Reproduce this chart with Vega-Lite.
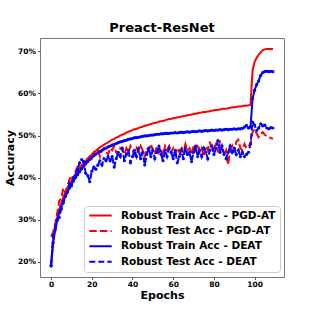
{
"$schema":"https://vega.github.io/schema/vega-lite/v6.json",
"autosize":"none",
"width":244,"height":239,
"padding":{"left":40,"top":38,"right":32,"bottom":39},
"background":"white",
"title":{"text":"Preact-ResNet","fontSize":13,"fontWeight":"bold","font":"DejaVu Sans","color":"black","offset":3,"anchor":"middle"},
"config":{
"view":{"stroke":"#777777","strokeWidth":1},
"font":"DejaVu Sans",
"axis":{"labelFont":"DejaVu Sans","labelFontSize":7.5,"labelFontWeight":"bold","labelColor":"black","tickColor":"#555555","tickSize":2.5,"domain":false,"grid":false,"titleFont":"DejaVu Sans","titleFontSize":11,"titleFontWeight":"bold","titleColor":"black"},
"legend":{"orient":"none","legendX":44,"legendY":168,"fillColor":"rgba(255,255,255,0.85)","strokeColor":"#cccccc","cornerRadius":3,"padding":4,"symbolType":"stroke","symbolSize":500,"clipHeight":11,"symbolStrokeWidth":2,"labelFont":"DejaVu Sans","labelFontSize":10.5,"labelFontWeight":"bold","labelColor":"black","labelOffset":8,"rowPadding":4.4,"title":null}
},
"datasets":{"acc":[
{"e":0,"s":"Robust Train Acc - PGD-AT","v":19.5},{"e":1,"s":"Robust Train Acc - PGD-AT","v":25.0},{"e":2,"s":"Robust Train Acc - PGD-AT","v":28.2},{"e":3,"s":"Robust Train Acc - PGD-AT","v":30.5},{"e":4,"s":"Robust Train Acc - PGD-AT","v":32.4},{"e":5,"s":"Robust Train Acc - PGD-AT","v":34.0},{"e":6,"s":"Robust Train Acc - PGD-AT","v":35.3},{"e":7,"s":"Robust Train Acc - PGD-AT","v":36.5},{"e":8,"s":"Robust Train Acc - PGD-AT","v":37.5},{"e":9,"s":"Robust Train Acc - PGD-AT","v":38.4},
{"e":10,"s":"Robust Train Acc - PGD-AT","v":39.3},{"e":11,"s":"Robust Train Acc - PGD-AT","v":40.1},{"e":12,"s":"Robust Train Acc - PGD-AT","v":40.8},{"e":13,"s":"Robust Train Acc - PGD-AT","v":41.5},{"e":14,"s":"Robust Train Acc - PGD-AT","v":42.2},{"e":15,"s":"Robust Train Acc - PGD-AT","v":42.8},{"e":16,"s":"Robust Train Acc - PGD-AT","v":43.4},{"e":17,"s":"Robust Train Acc - PGD-AT","v":44.0},{"e":18,"s":"Robust Train Acc - PGD-AT","v":44.5},{"e":19,"s":"Robust Train Acc - PGD-AT","v":45.0},
{"e":20,"s":"Robust Train Acc - PGD-AT","v":45.5},{"e":21,"s":"Robust Train Acc - PGD-AT","v":46.0},{"e":22,"s":"Robust Train Acc - PGD-AT","v":46.4},{"e":23,"s":"Robust Train Acc - PGD-AT","v":46.8},{"e":24,"s":"Robust Train Acc - PGD-AT","v":47.2},{"e":25,"s":"Robust Train Acc - PGD-AT","v":47.5},{"e":26,"s":"Robust Train Acc - PGD-AT","v":47.8},{"e":27,"s":"Robust Train Acc - PGD-AT","v":48.1},{"e":28,"s":"Robust Train Acc - PGD-AT","v":48.4},{"e":29,"s":"Robust Train Acc - PGD-AT","v":48.7},
{"e":30,"s":"Robust Train Acc - PGD-AT","v":49.0},{"e":31,"s":"Robust Train Acc - PGD-AT","v":49.2},{"e":32,"s":"Robust Train Acc - PGD-AT","v":49.5},{"e":33,"s":"Robust Train Acc - PGD-AT","v":49.7},{"e":34,"s":"Robust Train Acc - PGD-AT","v":50.0},{"e":35,"s":"Robust Train Acc - PGD-AT","v":50.2},{"e":36,"s":"Robust Train Acc - PGD-AT","v":50.4},{"e":37,"s":"Robust Train Acc - PGD-AT","v":50.7},{"e":38,"s":"Robust Train Acc - PGD-AT","v":50.9},{"e":39,"s":"Robust Train Acc - PGD-AT","v":51.1},
{"e":40,"s":"Robust Train Acc - PGD-AT","v":51.3},{"e":41,"s":"Robust Train Acc - PGD-AT","v":51.5},{"e":42,"s":"Robust Train Acc - PGD-AT","v":51.6},{"e":43,"s":"Robust Train Acc - PGD-AT","v":51.8},{"e":44,"s":"Robust Train Acc - PGD-AT","v":52.0},{"e":45,"s":"Robust Train Acc - PGD-AT","v":52.1},{"e":46,"s":"Robust Train Acc - PGD-AT","v":52.3},{"e":47,"s":"Robust Train Acc - PGD-AT","v":52.4},{"e":48,"s":"Robust Train Acc - PGD-AT","v":52.6},{"e":49,"s":"Robust Train Acc - PGD-AT","v":52.7},
{"e":50,"s":"Robust Train Acc - PGD-AT","v":52.9},{"e":51,"s":"Robust Train Acc - PGD-AT","v":53.0},{"e":52,"s":"Robust Train Acc - PGD-AT","v":53.1},{"e":53,"s":"Robust Train Acc - PGD-AT","v":53.3},{"e":54,"s":"Robust Train Acc - PGD-AT","v":53.4},{"e":55,"s":"Robust Train Acc - PGD-AT","v":53.5},{"e":56,"s":"Robust Train Acc - PGD-AT","v":53.6},{"e":57,"s":"Robust Train Acc - PGD-AT","v":53.8},{"e":58,"s":"Robust Train Acc - PGD-AT","v":53.9},{"e":59,"s":"Robust Train Acc - PGD-AT","v":54.0},
{"e":60,"s":"Robust Train Acc - PGD-AT","v":54.1},{"e":61,"s":"Robust Train Acc - PGD-AT","v":54.2},{"e":62,"s":"Robust Train Acc - PGD-AT","v":54.3},{"e":63,"s":"Robust Train Acc - PGD-AT","v":54.4},{"e":64,"s":"Robust Train Acc - PGD-AT","v":54.5},{"e":65,"s":"Robust Train Acc - PGD-AT","v":54.6},{"e":66,"s":"Robust Train Acc - PGD-AT","v":54.7},{"e":67,"s":"Robust Train Acc - PGD-AT","v":54.8},{"e":68,"s":"Robust Train Acc - PGD-AT","v":54.9},{"e":69,"s":"Robust Train Acc - PGD-AT","v":55.0},
{"e":70,"s":"Robust Train Acc - PGD-AT","v":55.1},{"e":71,"s":"Robust Train Acc - PGD-AT","v":55.2},{"e":72,"s":"Robust Train Acc - PGD-AT","v":55.3},{"e":73,"s":"Robust Train Acc - PGD-AT","v":55.4},{"e":74,"s":"Robust Train Acc - PGD-AT","v":55.5},{"e":75,"s":"Robust Train Acc - PGD-AT","v":55.6},{"e":76,"s":"Robust Train Acc - PGD-AT","v":55.6},{"e":77,"s":"Robust Train Acc - PGD-AT","v":55.7},{"e":78,"s":"Robust Train Acc - PGD-AT","v":55.8},{"e":79,"s":"Robust Train Acc - PGD-AT","v":55.9},
{"e":80,"s":"Robust Train Acc - PGD-AT","v":56.0},{"e":81,"s":"Robust Train Acc - PGD-AT","v":56.1},{"e":82,"s":"Robust Train Acc - PGD-AT","v":56.1},{"e":83,"s":"Robust Train Acc - PGD-AT","v":56.2},{"e":84,"s":"Robust Train Acc - PGD-AT","v":56.3},{"e":85,"s":"Robust Train Acc - PGD-AT","v":56.4},{"e":86,"s":"Robust Train Acc - PGD-AT","v":56.4},{"e":87,"s":"Robust Train Acc - PGD-AT","v":56.5},{"e":88,"s":"Robust Train Acc - PGD-AT","v":56.6},{"e":89,"s":"Robust Train Acc - PGD-AT","v":56.7},
{"e":90,"s":"Robust Train Acc - PGD-AT","v":56.7},{"e":91,"s":"Robust Train Acc - PGD-AT","v":56.8},{"e":92,"s":"Robust Train Acc - PGD-AT","v":56.9},{"e":93,"s":"Robust Train Acc - PGD-AT","v":56.9},{"e":94,"s":"Robust Train Acc - PGD-AT","v":57.0},{"e":95,"s":"Robust Train Acc - PGD-AT","v":57.1},{"e":96,"s":"Robust Train Acc - PGD-AT","v":57.1},{"e":97,"s":"Robust Train Acc - PGD-AT","v":57.2},{"e":98,"s":"Robust Train Acc - PGD-AT","v":57.3},{"e":99,"s":"Robust Train Acc - PGD-AT","v":65.5},
{"e":100,"s":"Robust Train Acc - PGD-AT","v":67.5},{"e":101,"s":"Robust Train Acc - PGD-AT","v":68.5},{"e":102,"s":"Robust Train Acc - PGD-AT","v":69.2},{"e":103,"s":"Robust Train Acc - PGD-AT","v":69.8},{"e":104,"s":"Robust Train Acc - PGD-AT","v":70.3},{"e":105,"s":"Robust Train Acc - PGD-AT","v":70.5},{"e":106,"s":"Robust Train Acc - PGD-AT","v":70.6},{"e":107,"s":"Robust Train Acc - PGD-AT","v":70.6},{"e":108,"s":"Robust Train Acc - PGD-AT","v":70.6},{"e":109,"s":"Robust Train Acc - PGD-AT","v":70.6},

{"e":0,"s":"Robust Test Acc - PGD-AT","v":26.0},{"e":1,"s":"Robust Test Acc - PGD-AT","v":27.0},{"e":2,"s":"Robust Test Acc - PGD-AT","v":29.0},{"e":3,"s":"Robust Test Acc - PGD-AT","v":31.5},{"e":4,"s":"Robust Test Acc - PGD-AT","v":34.5},{"e":5,"s":"Robust Test Acc - PGD-AT","v":35.0},{"e":6,"s":"Robust Test Acc - PGD-AT","v":37.5},{"e":7,"s":"Robust Test Acc - PGD-AT","v":36.5},{"e":8,"s":"Robust Test Acc - PGD-AT","v":38.0},{"e":9,"s":"Robust Test Acc - PGD-AT","v":39.5},
{"e":10,"s":"Robust Test Acc - PGD-AT","v":40.5},{"e":11,"s":"Robust Test Acc - PGD-AT","v":39.5},{"e":12,"s":"Robust Test Acc - PGD-AT","v":41.5},{"e":13,"s":"Robust Test Acc - PGD-AT","v":42.5},{"e":14,"s":"Robust Test Acc - PGD-AT","v":42.0},{"e":15,"s":"Robust Test Acc - PGD-AT","v":43.0},{"e":16,"s":"Robust Test Acc - PGD-AT","v":43.5},{"e":17,"s":"Robust Test Acc - PGD-AT","v":44.0},{"e":18,"s":"Robust Test Acc - PGD-AT","v":44.5},{"e":19,"s":"Robust Test Acc - PGD-AT","v":45.0},
{"e":20,"s":"Robust Test Acc - PGD-AT","v":44.5},{"e":21,"s":"Robust Test Acc - PGD-AT","v":46.0},{"e":22,"s":"Robust Test Acc - PGD-AT","v":45.5},{"e":23,"s":"Robust Test Acc - PGD-AT","v":46.5},{"e":24,"s":"Robust Test Acc - PGD-AT","v":45.0},{"e":25,"s":"Robust Test Acc - PGD-AT","v":46.5},{"e":26,"s":"Robust Test Acc - PGD-AT","v":47.0},{"e":27,"s":"Robust Test Acc - PGD-AT","v":46.0},{"e":28,"s":"Robust Test Acc - PGD-AT","v":45.5},{"e":29,"s":"Robust Test Acc - PGD-AT","v":47.0},
{"e":30,"s":"Robust Test Acc - PGD-AT","v":46.5},{"e":31,"s":"Robust Test Acc - PGD-AT","v":47.5},{"e":32,"s":"Robust Test Acc - PGD-AT","v":46.0},{"e":33,"s":"Robust Test Acc - PGD-AT","v":45.5},{"e":34,"s":"Robust Test Acc - PGD-AT","v":47.0},{"e":35,"s":"Robust Test Acc - PGD-AT","v":46.5},{"e":36,"s":"Robust Test Acc - PGD-AT","v":45.5},{"e":37,"s":"Robust Test Acc - PGD-AT","v":47.0},{"e":38,"s":"Robust Test Acc - PGD-AT","v":46.0},{"e":39,"s":"Robust Test Acc - PGD-AT","v":47.5},
{"e":40,"s":"Robust Test Acc - PGD-AT","v":46.5},{"e":41,"s":"Robust Test Acc - PGD-AT","v":45.5},{"e":42,"s":"Robust Test Acc - PGD-AT","v":47.0},{"e":43,"s":"Robust Test Acc - PGD-AT","v":46.0},{"e":44,"s":"Robust Test Acc - PGD-AT","v":47.5},{"e":45,"s":"Robust Test Acc - PGD-AT","v":46.5},{"e":46,"s":"Robust Test Acc - PGD-AT","v":45.0},{"e":47,"s":"Robust Test Acc - PGD-AT","v":47.0},{"e":48,"s":"Robust Test Acc - PGD-AT","v":46.5},{"e":49,"s":"Robust Test Acc - PGD-AT","v":48.0},
{"e":50,"s":"Robust Test Acc - PGD-AT","v":46.5},{"e":51,"s":"Robust Test Acc - PGD-AT","v":45.5},{"e":52,"s":"Robust Test Acc - PGD-AT","v":47.5},{"e":53,"s":"Robust Test Acc - PGD-AT","v":46.0},{"e":54,"s":"Robust Test Acc - PGD-AT","v":47.0},{"e":55,"s":"Robust Test Acc - PGD-AT","v":45.0},{"e":56,"s":"Robust Test Acc - PGD-AT","v":47.5},{"e":57,"s":"Robust Test Acc - PGD-AT","v":46.5},{"e":58,"s":"Robust Test Acc - PGD-AT","v":47.5},{"e":59,"s":"Robust Test Acc - PGD-AT","v":46.0},
{"e":60,"s":"Robust Test Acc - PGD-AT","v":47.0},{"e":61,"s":"Robust Test Acc - PGD-AT","v":45.5},{"e":62,"s":"Robust Test Acc - PGD-AT","v":47.0},{"e":63,"s":"Robust Test Acc - PGD-AT","v":46.0},{"e":64,"s":"Robust Test Acc - PGD-AT","v":47.5},{"e":65,"s":"Robust Test Acc - PGD-AT","v":46.0},{"e":66,"s":"Robust Test Acc - PGD-AT","v":48.0},{"e":67,"s":"Robust Test Acc - PGD-AT","v":46.5},{"e":68,"s":"Robust Test Acc - PGD-AT","v":47.0},{"e":69,"s":"Robust Test Acc - PGD-AT","v":45.5},
{"e":70,"s":"Robust Test Acc - PGD-AT","v":47.5},{"e":71,"s":"Robust Test Acc - PGD-AT","v":46.5},{"e":72,"s":"Robust Test Acc - PGD-AT","v":48.0},{"e":73,"s":"Robust Test Acc - PGD-AT","v":46.0},{"e":74,"s":"Robust Test Acc - PGD-AT","v":47.0},{"e":75,"s":"Robust Test Acc - PGD-AT","v":45.0},{"e":76,"s":"Robust Test Acc - PGD-AT","v":47.5},{"e":77,"s":"Robust Test Acc - PGD-AT","v":46.5},{"e":78,"s":"Robust Test Acc - PGD-AT","v":48.5},{"e":79,"s":"Robust Test Acc - PGD-AT","v":46.5},
{"e":80,"s":"Robust Test Acc - PGD-AT","v":47.0},{"e":81,"s":"Robust Test Acc - PGD-AT","v":48.0},{"e":82,"s":"Robust Test Acc - PGD-AT","v":46.0},{"e":83,"s":"Robust Test Acc - PGD-AT","v":48.8},{"e":84,"s":"Robust Test Acc - PGD-AT","v":47.0},{"e":85,"s":"Robust Test Acc - PGD-AT","v":45.5},{"e":86,"s":"Robust Test Acc - PGD-AT","v":46.5},{"e":87,"s":"Robust Test Acc - PGD-AT","v":43.0},{"e":88,"s":"Robust Test Acc - PGD-AT","v":46.5},{"e":89,"s":"Robust Test Acc - PGD-AT","v":47.5},
{"e":90,"s":"Robust Test Acc - PGD-AT","v":46.0},{"e":91,"s":"Robust Test Acc - PGD-AT","v":48.5},{"e":92,"s":"Robust Test Acc - PGD-AT","v":49.0},{"e":93,"s":"Robust Test Acc - PGD-AT","v":47.0},{"e":94,"s":"Robust Test Acc - PGD-AT","v":46.5},{"e":95,"s":"Robust Test Acc - PGD-AT","v":48.0},{"e":96,"s":"Robust Test Acc - PGD-AT","v":47.0},{"e":97,"s":"Robust Test Acc - PGD-AT","v":47.5},{"e":98,"s":"Robust Test Acc - PGD-AT","v":48.0},{"e":99,"s":"Robust Test Acc - PGD-AT","v":50.8},
{"e":100,"s":"Robust Test Acc - PGD-AT","v":51.5},{"e":101,"s":"Robust Test Acc - PGD-AT","v":50.5},{"e":102,"s":"Robust Test Acc - PGD-AT","v":49.6},{"e":103,"s":"Robust Test Acc - PGD-AT","v":50.4},{"e":104,"s":"Robust Test Acc - PGD-AT","v":50.8},{"e":105,"s":"Robust Test Acc - PGD-AT","v":50.2},{"e":106,"s":"Robust Test Acc - PGD-AT","v":49.8},{"e":107,"s":"Robust Test Acc - PGD-AT","v":49.6},{"e":108,"s":"Robust Test Acc - PGD-AT","v":49.4},{"e":109,"s":"Robust Test Acc - PGD-AT","v":49.2},

{"e":0,"s":"Robust Train Acc - DEAT","v":19.0},{"e":1,"s":"Robust Train Acc - DEAT","v":24.5},{"e":2,"s":"Robust Train Acc - DEAT","v":27.5},{"e":3,"s":"Robust Train Acc - DEAT","v":29.8},{"e":4,"s":"Robust Train Acc - DEAT","v":31.6},{"e":5,"s":"Robust Train Acc - DEAT","v":33.1},{"e":6,"s":"Robust Train Acc - DEAT","v":34.4},{"e":7,"s":"Robust Train Acc - DEAT","v":35.6},{"e":8,"s":"Robust Train Acc - DEAT","v":36.6},{"e":9,"s":"Robust Train Acc - DEAT","v":37.5},
{"e":10,"s":"Robust Train Acc - DEAT","v":38.4},{"e":11,"s":"Robust Train Acc - DEAT","v":39.2},{"e":12,"s":"Robust Train Acc - DEAT","v":40.0},{"e":13,"s":"Robust Train Acc - DEAT","v":40.7},{"e":14,"s":"Robust Train Acc - DEAT","v":41.4},{"e":15,"s":"Robust Train Acc - DEAT","v":42.1},{"e":16,"s":"Robust Train Acc - DEAT","v":42.7},{"e":17,"s":"Robust Train Acc - DEAT","v":43.3},{"e":18,"s":"Robust Train Acc - DEAT","v":43.8},{"e":19,"s":"Robust Train Acc - DEAT","v":44.3},
{"e":20,"s":"Robust Train Acc - DEAT","v":44.8},{"e":21,"s":"Robust Train Acc - DEAT","v":45.2},{"e":22,"s":"Robust Train Acc - DEAT","v":45.6},{"e":23,"s":"Robust Train Acc - DEAT","v":45.9},{"e":24,"s":"Robust Train Acc - DEAT","v":46.2},{"e":25,"s":"Robust Train Acc - DEAT","v":46.5},{"e":26,"s":"Robust Train Acc - DEAT","v":46.8},{"e":27,"s":"Robust Train Acc - DEAT","v":47.0},{"e":28,"s":"Robust Train Acc - DEAT","v":47.3},{"e":29,"s":"Robust Train Acc - DEAT","v":47.5},
{"e":30,"s":"Robust Train Acc - DEAT","v":47.7},{"e":31,"s":"Robust Train Acc - DEAT","v":47.9},{"e":32,"s":"Robust Train Acc - DEAT","v":48.1},{"e":33,"s":"Robust Train Acc - DEAT","v":48.3},{"e":34,"s":"Robust Train Acc - DEAT","v":48.5},{"e":35,"s":"Robust Train Acc - DEAT","v":48.6},{"e":36,"s":"Robust Train Acc - DEAT","v":48.8},{"e":37,"s":"Robust Train Acc - DEAT","v":48.9},{"e":38,"s":"Robust Train Acc - DEAT","v":49.1},{"e":39,"s":"Robust Train Acc - DEAT","v":49.2},
{"e":40,"s":"Robust Train Acc - DEAT","v":49.3},{"e":41,"s":"Robust Train Acc - DEAT","v":49.5},{"e":42,"s":"Robust Train Acc - DEAT","v":49.5},{"e":43,"s":"Robust Train Acc - DEAT","v":49.6},{"e":44,"s":"Robust Train Acc - DEAT","v":49.7},{"e":45,"s":"Robust Train Acc - DEAT","v":49.8},{"e":46,"s":"Robust Train Acc - DEAT","v":49.9},{"e":47,"s":"Robust Train Acc - DEAT","v":49.9},{"e":48,"s":"Robust Train Acc - DEAT","v":50.0},{"e":49,"s":"Robust Train Acc - DEAT","v":50.1},
{"e":50,"s":"Robust Train Acc - DEAT","v":50.1},{"e":51,"s":"Robust Train Acc - DEAT","v":50.2},{"e":52,"s":"Robust Train Acc - DEAT","v":50.3},{"e":53,"s":"Robust Train Acc - DEAT","v":50.3},{"e":54,"s":"Robust Train Acc - DEAT","v":50.4},{"e":55,"s":"Robust Train Acc - DEAT","v":50.4},{"e":56,"s":"Robust Train Acc - DEAT","v":50.5},{"e":57,"s":"Robust Train Acc - DEAT","v":50.5},{"e":58,"s":"Robust Train Acc - DEAT","v":50.5},{"e":59,"s":"Robust Train Acc - DEAT","v":50.6},
{"e":60,"s":"Robust Train Acc - DEAT","v":50.6},{"e":61,"s":"Robust Train Acc - DEAT","v":50.7},{"e":62,"s":"Robust Train Acc - DEAT","v":50.6},{"e":63,"s":"Robust Train Acc - DEAT","v":50.7},{"e":64,"s":"Robust Train Acc - DEAT","v":50.8},{"e":65,"s":"Robust Train Acc - DEAT","v":50.7},{"e":66,"s":"Robust Train Acc - DEAT","v":50.8},{"e":67,"s":"Robust Train Acc - DEAT","v":50.9},{"e":68,"s":"Robust Train Acc - DEAT","v":50.8},{"e":69,"s":"Robust Train Acc - DEAT","v":50.9},
{"e":70,"s":"Robust Train Acc - DEAT","v":51.0},{"e":71,"s":"Robust Train Acc - DEAT","v":50.9},{"e":72,"s":"Robust Train Acc - DEAT","v":51.0},{"e":73,"s":"Robust Train Acc - DEAT","v":51.1},{"e":74,"s":"Robust Train Acc - DEAT","v":51.0},{"e":75,"s":"Robust Train Acc - DEAT","v":51.1},{"e":76,"s":"Robust Train Acc - DEAT","v":51.2},{"e":77,"s":"Robust Train Acc - DEAT","v":51.1},{"e":78,"s":"Robust Train Acc - DEAT","v":51.2},{"e":79,"s":"Robust Train Acc - DEAT","v":51.3},
{"e":80,"s":"Robust Train Acc - DEAT","v":51.2},{"e":81,"s":"Robust Train Acc - DEAT","v":51.3},{"e":82,"s":"Robust Train Acc - DEAT","v":51.3},{"e":83,"s":"Robust Train Acc - DEAT","v":51.4},{"e":84,"s":"Robust Train Acc - DEAT","v":51.3},{"e":85,"s":"Robust Train Acc - DEAT","v":51.4},{"e":86,"s":"Robust Train Acc - DEAT","v":51.5},{"e":87,"s":"Robust Train Acc - DEAT","v":51.4},{"e":88,"s":"Robust Train Acc - DEAT","v":51.5},{"e":89,"s":"Robust Train Acc - DEAT","v":51.5},
{"e":90,"s":"Robust Train Acc - DEAT","v":51.6},{"e":91,"s":"Robust Train Acc - DEAT","v":51.5},{"e":92,"s":"Robust Train Acc - DEAT","v":51.6},{"e":93,"s":"Robust Train Acc - DEAT","v":51.6},{"e":94,"s":"Robust Train Acc - DEAT","v":51.7},{"e":95,"s":"Robust Train Acc - DEAT","v":52.0},{"e":96,"s":"Robust Train Acc - DEAT","v":52.4},{"e":97,"s":"Robust Train Acc - DEAT","v":51.8},{"e":98,"s":"Robust Train Acc - DEAT","v":52.0},{"e":99,"s":"Robust Train Acc - DEAT","v":58.8},
{"e":100,"s":"Robust Train Acc - DEAT","v":60.8},{"e":101,"s":"Robust Train Acc - DEAT","v":62.1},{"e":102,"s":"Robust Train Acc - DEAT","v":63.0},{"e":103,"s":"Robust Train Acc - DEAT","v":64.3},{"e":104,"s":"Robust Train Acc - DEAT","v":65.0},{"e":105,"s":"Robust Train Acc - DEAT","v":65.2},{"e":106,"s":"Robust Train Acc - DEAT","v":65.3},{"e":107,"s":"Robust Train Acc - DEAT","v":65.2},{"e":108,"s":"Robust Train Acc - DEAT","v":65.3},{"e":109,"s":"Robust Train Acc - DEAT","v":65.2},

{"e":0,"s":"Robust Test Acc - DEAT","v":19.0},{"e":1,"s":"Robust Test Acc - DEAT","v":26.0},{"e":2,"s":"Robust Test Acc - DEAT","v":28.0},{"e":3,"s":"Robust Test Acc - DEAT","v":30.0},{"e":4,"s":"Robust Test Acc - DEAT","v":30.5},{"e":5,"s":"Robust Test Acc - DEAT","v":32.5},{"e":6,"s":"Robust Test Acc - DEAT","v":34.0},{"e":7,"s":"Robust Test Acc - DEAT","v":35.5},{"e":8,"s":"Robust Test Acc - DEAT","v":36.5},{"e":9,"s":"Robust Test Acc - DEAT","v":38.5},
{"e":10,"s":"Robust Test Acc - DEAT","v":38.0},{"e":11,"s":"Robust Test Acc - DEAT","v":40.0},{"e":12,"s":"Robust Test Acc - DEAT","v":40.5},{"e":13,"s":"Robust Test Acc - DEAT","v":42.0},{"e":14,"s":"Robust Test Acc - DEAT","v":43.5},{"e":15,"s":"Robust Test Acc - DEAT","v":44.3},{"e":16,"s":"Robust Test Acc - DEAT","v":43.8},{"e":17,"s":"Robust Test Acc - DEAT","v":41.0},{"e":18,"s":"Robust Test Acc - DEAT","v":40.5},{"e":19,"s":"Robust Test Acc - DEAT","v":39.0},
{"e":20,"s":"Robust Test Acc - DEAT","v":41.5},{"e":21,"s":"Robust Test Acc - DEAT","v":42.5},{"e":22,"s":"Robust Test Acc - DEAT","v":42.0},{"e":23,"s":"Robust Test Acc - DEAT","v":43.0},{"e":24,"s":"Robust Test Acc - DEAT","v":44.0},{"e":25,"s":"Robust Test Acc - DEAT","v":43.0},{"e":26,"s":"Robust Test Acc - DEAT","v":44.5},{"e":27,"s":"Robust Test Acc - DEAT","v":44.0},{"e":28,"s":"Robust Test Acc - DEAT","v":45.0},{"e":29,"s":"Robust Test Acc - DEAT","v":44.0},
{"e":30,"s":"Robust Test Acc - DEAT","v":45.0},{"e":31,"s":"Robust Test Acc - DEAT","v":42.5},{"e":32,"s":"Robust Test Acc - DEAT","v":44.5},{"e":33,"s":"Robust Test Acc - DEAT","v":46.0},{"e":34,"s":"Robust Test Acc - DEAT","v":45.0},{"e":35,"s":"Robust Test Acc - DEAT","v":47.0},{"e":36,"s":"Robust Test Acc - DEAT","v":44.0},{"e":37,"s":"Robust Test Acc - DEAT","v":45.5},{"e":38,"s":"Robust Test Acc - DEAT","v":46.5},{"e":39,"s":"Robust Test Acc - DEAT","v":43.5},
{"e":40,"s":"Robust Test Acc - DEAT","v":45.0},{"e":41,"s":"Robust Test Acc - DEAT","v":46.5},{"e":42,"s":"Robust Test Acc - DEAT","v":45.0},{"e":43,"s":"Robust Test Acc - DEAT","v":47.0},{"e":44,"s":"Robust Test Acc - DEAT","v":44.5},{"e":45,"s":"Robust Test Acc - DEAT","v":46.0},{"e":46,"s":"Robust Test Acc - DEAT","v":43.0},{"e":47,"s":"Robust Test Acc - DEAT","v":45.5},{"e":48,"s":"Robust Test Acc - DEAT","v":47.0},{"e":49,"s":"Robust Test Acc - DEAT","v":45.0},
{"e":50,"s":"Robust Test Acc - DEAT","v":46.5},{"e":51,"s":"Robust Test Acc - DEAT","v":44.5},{"e":52,"s":"Robust Test Acc - DEAT","v":46.0},{"e":53,"s":"Robust Test Acc - DEAT","v":47.5},{"e":54,"s":"Robust Test Acc - DEAT","v":45.5},{"e":55,"s":"Robust Test Acc - DEAT","v":44.0},{"e":56,"s":"Robust Test Acc - DEAT","v":46.5},{"e":57,"s":"Robust Test Acc - DEAT","v":45.0},{"e":58,"s":"Robust Test Acc - DEAT","v":47.0},{"e":59,"s":"Robust Test Acc - DEAT","v":46.0},
{"e":60,"s":"Robust Test Acc - DEAT","v":44.5},{"e":61,"s":"Robust Test Acc - DEAT","v":46.5},{"e":62,"s":"Robust Test Acc - DEAT","v":43.5},{"e":63,"s":"Robust Test Acc - DEAT","v":45.0},{"e":64,"s":"Robust Test Acc - DEAT","v":46.5},{"e":65,"s":"Robust Test Acc - DEAT","v":44.5},{"e":66,"s":"Robust Test Acc - DEAT","v":47.0},{"e":67,"s":"Robust Test Acc - DEAT","v":45.5},{"e":68,"s":"Robust Test Acc - DEAT","v":46.0},{"e":69,"s":"Robust Test Acc - DEAT","v":43.8},
{"e":70,"s":"Robust Test Acc - DEAT","v":46.0},{"e":71,"s":"Robust Test Acc - DEAT","v":47.5},{"e":72,"s":"Robust Test Acc - DEAT","v":45.0},{"e":73,"s":"Robust Test Acc - DEAT","v":46.5},{"e":74,"s":"Robust Test Acc - DEAT","v":45.0},{"e":75,"s":"Robust Test Acc - DEAT","v":47.0},{"e":76,"s":"Robust Test Acc - DEAT","v":46.0},{"e":77,"s":"Robust Test Acc - DEAT","v":44.5},{"e":78,"s":"Robust Test Acc - DEAT","v":46.5},{"e":79,"s":"Robust Test Acc - DEAT","v":47.5},
{"e":80,"s":"Robust Test Acc - DEAT","v":45.5},{"e":81,"s":"Robust Test Acc - DEAT","v":47.0},{"e":82,"s":"Robust Test Acc - DEAT","v":48.8},{"e":83,"s":"Robust Test Acc - DEAT","v":46.0},{"e":84,"s":"Robust Test Acc - DEAT","v":47.5},{"e":85,"s":"Robust Test Acc - DEAT","v":45.5},{"e":86,"s":"Robust Test Acc - DEAT","v":44.5},{"e":87,"s":"Robust Test Acc - DEAT","v":46.0},{"e":88,"s":"Robust Test Acc - DEAT","v":47.5},{"e":89,"s":"Robust Test Acc - DEAT","v":46.0},
{"e":90,"s":"Robust Test Acc - DEAT","v":47.0},{"e":91,"s":"Robust Test Acc - DEAT","v":45.5},{"e":92,"s":"Robust Test Acc - DEAT","v":46.5},{"e":93,"s":"Robust Test Acc - DEAT","v":45.0},{"e":94,"s":"Robust Test Acc - DEAT","v":46.0},{"e":95,"s":"Robust Test Acc - DEAT","v":45.0},{"e":96,"s":"Robust Test Acc - DEAT","v":45.5},{"e":97,"s":"Robust Test Acc - DEAT","v":46.0},{"e":98,"s":"Robust Test Acc - DEAT","v":48.0},{"e":99,"s":"Robust Test Acc - DEAT","v":53.2},
{"e":100,"s":"Robust Test Acc - DEAT","v":52.5},{"e":101,"s":"Robust Test Acc - DEAT","v":51.2},{"e":102,"s":"Robust Test Acc - DEAT","v":51.8},{"e":103,"s":"Robust Test Acc - DEAT","v":52.8},{"e":104,"s":"Robust Test Acc - DEAT","v":52.3},{"e":105,"s":"Robust Test Acc - DEAT","v":52.5},{"e":106,"s":"Robust Test Acc - DEAT","v":51.8},{"e":107,"s":"Robust Test Acc - DEAT","v":51.6},{"e":108,"s":"Robust Test Acc - DEAT","v":51.9},{"e":109,"s":"Robust Test Acc - DEAT","v":51.8}
]},
"data":{"name":"acc"},
"encoding":{
"x":{"field":"e","type":"quantitative","scale":{"domain":[-5.45,114.45],"nice":false,"zero":false},"axis":{"values":[0,20,40,60,80,100],"title":"Epochs","labelPadding":1,"titlePadding":1}},
"y":{"field":"v","type":"quantitative","scale":{"domain":[16.35,73.2],"nice":false,"zero":false},"axis":{"values":[20,30,40,50,60,70],"labelExpr":"datum.value + '%'","title":"Accuracy","labelPadding":2,"titlePadding":2}}
},
"layer":[
{"mark":{"type":"line","strokeWidth":2,"clip":true},
 "encoding":{
  "color":{"field":"s","type":"nominal","sort":null,"scale":{"domain":["Robust Train Acc - PGD-AT","Robust Test Acc - PGD-AT","Robust Train Acc - DEAT","Robust Test Acc - DEAT"],"range":["#ff0000","#ff0000","#0000ff","#0000ff"]}},
  "strokeDash":{"field":"s","type":"nominal","sort":null,"scale":{"domain":["Robust Train Acc - PGD-AT","Robust Test Acc - PGD-AT","Robust Train Acc - DEAT","Robust Test Acc - DEAT"],"range":[[1,0],[7.4,3.2],[1,0],[6,3]]}}
 }},
{"transform":[{"filter":{"field":"s","oneOf":["Robust Train Acc - DEAT","Robust Test Acc - DEAT"]}}],
 "mark":{"type":"point","filled":true,"size":10,"color":"#0000ff","opacity":1,"clip":true}}
]
}
